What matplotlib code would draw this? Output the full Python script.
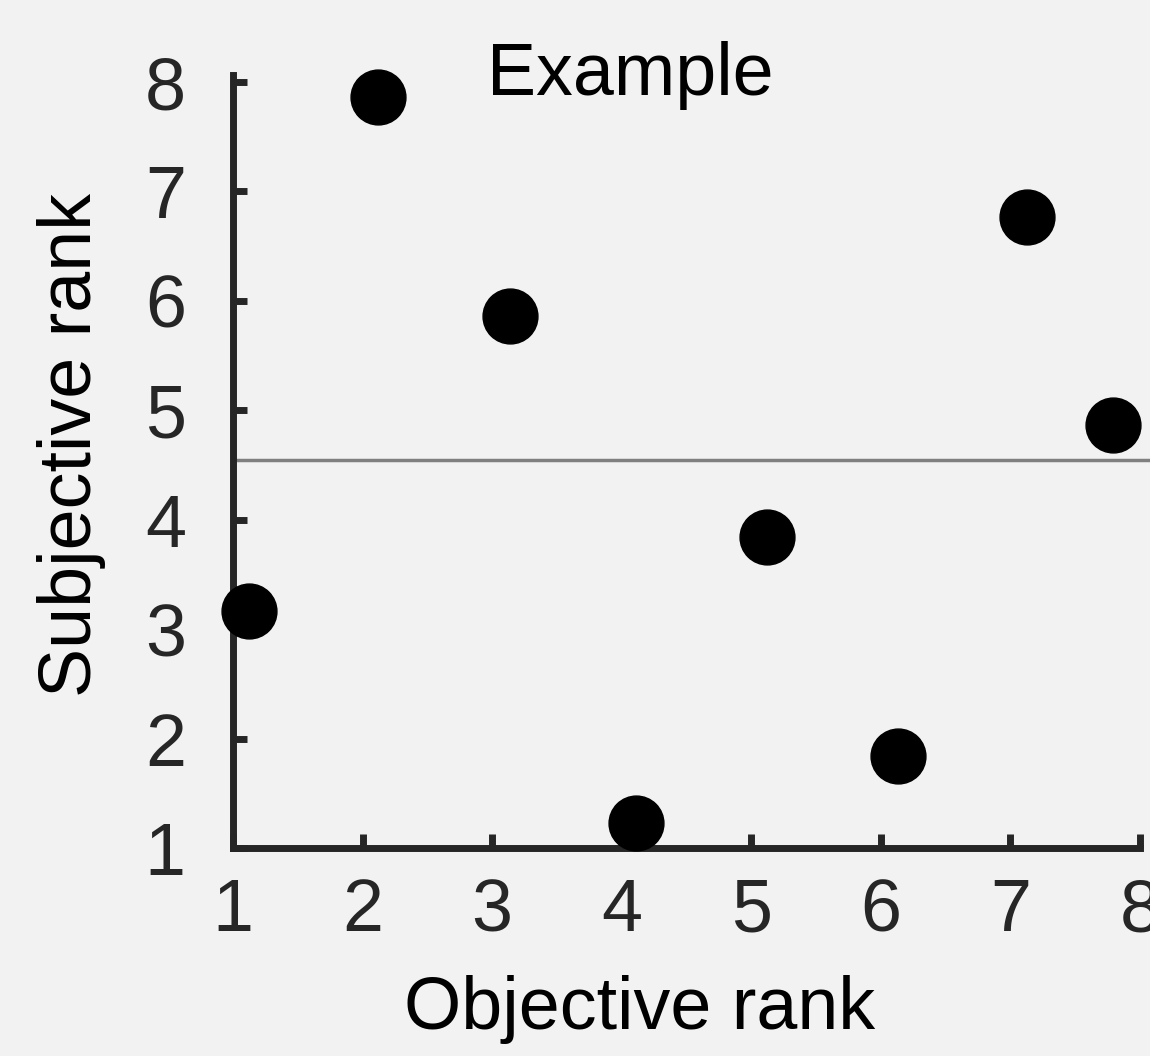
import numpy as np
import matplotlib.pyplot as plt

plt.rcParams['font.family'] = ['Liberation Sans', 'DejaVu Sans']

# data
objective = [1.12, 2.12, 3.14, 4.11, 5.12, 6.13, 7.13, 7.79]
subjective = [3.17, 7.86, 5.86, 1.23, 3.84, 1.84, 6.77, 4.87]
ref_level = 4.55
ticks = [1, 2, 3, 4, 5, 6, 7, 8]

bg = '#f2f2f2'
dark = '#262626'

fig = plt.figure(figsize=(11.5, 10.56), dpi=100, facecolor=bg)
ax = fig.add_axes([233/1150, 1-848/1056, (1140-233)/1150, (848-75)/1056])
ax.set_facecolor(bg)

ax.axhline(ref_level, color='#808080', lw=2.5, xmax=1.01, clip_on=False, zorder=1)
ax.plot(objective, subjective, 'o', color='black', ms=39.5, clip_on=False, zorder=3)

ax.set_xlim(1, 8)
ax.set_ylim(1, 8.064)
ax.set_xticks(ticks)
ax.set_yticks(ticks)

for s in ['top', 'right']:
    ax.spines[s].set_visible(False)
for s in ['left', 'bottom']:
    ax.spines[s].set_color(dark)
    ax.spines[s].set_linewidth(5)
ax.tick_params(direction='in', length=10, width=5, color=dark,
               labelcolor=dark, labelsize=53)
ax.tick_params(axis='x', pad=21)
ax.tick_params(axis='y', pad=34)

ax.text((630-233)/907, 1.0, 'Example', transform=ax.transAxes,
        ha='center', va='center', fontsize=53, color='black')
fig.text(640/1150, 1-1010/1056, 'Objective rank', ha='center', va='center',
         fontsize=53, color='black')
fig.text(72/1150, 1-445/1056, 'Subjective rank', ha='center', va='center',
         rotation=90, fontsize=53, color='black')

fig.savefig('out.png', dpi=100, facecolor=bg)
